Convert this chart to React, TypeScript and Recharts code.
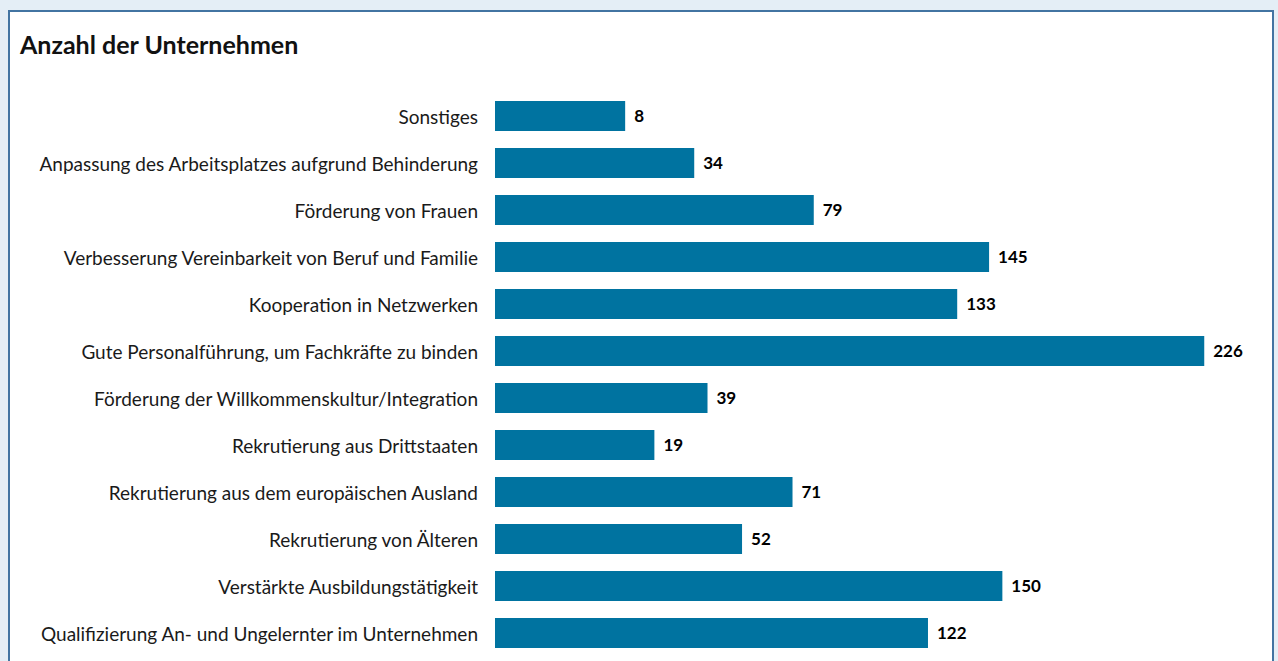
import { BarChart, Bar, XAxis, YAxis, LabelList } from 'recharts';

const categories = [
  'Sonstiges',
  'Anpassung des Arbeitsplatzes aufgrund Behinderung',
  'Förderung von Frauen',
  'Verbesserung Vereinbarkeit von Beruf und Familie',
  'Kooperation in Netzwerken',
  'Gute Personalführung, um Fachkräfte zu binden',
  'Förderung der Willkommenskultur/Integration',
  'Rekrutierung aus Drittstaaten',
  'Rekrutierung aus dem europäischen Ausland',
  'Rekrutierung von Älteren',
  'Verstärkte Ausbildungstätigkeit',
  'Qualifizierung An- und Ungelernter im Unternehmen',
];

const counts = [8, 34, 79, 145, 133, 226, 39, 19, 71, 52, 150, 122];

// the original axis does not start at zero: bars grow from this value
const AXIS_MIN = -41;
const AXIS_MAX = 250;

const data = categories.map((name, i) => ({ name, value: counts[i] }));

const FONT = 'Lato, "Open Sans", sans-serif';

const App = () => {
  return (
    <div
      style={{
        position: 'absolute',
        left: 0,
        top: 0,
        width: 1278,
        height: 661,
        background: '#e4eef6',
        overflow: 'hidden',
        fontFamily: FONT,
      }}
    >
      <div
        style={{
          position: 'absolute',
          left: 8,
          top: 10,
          width: 1262,
          height: 700,
          background: '#fff',
          border: '2px solid #4274a2',
        }}
      />
      <div
        style={{
          position: 'absolute',
          left: 20,
          top: 29,
          fontSize: 25,
          fontWeight: 700,
          color: '#111',
        }}
      >
        Anzahl der Unternehmen
      </div>
      <div style={{ position: 'absolute', left: 0, top: 0 }}>
        <BarChart
          width={1278}
          height={661}
          data={data}
          layout="vertical"
          barSize={30}
          margin={{ top: 92, right: 10, bottom: 5, left: 0 }}
        >
          <XAxis type="number" domain={[AXIS_MIN, AXIS_MAX]} allowDataOverflow hide />
          <YAxis
            type="category"
            dataKey="name"
            width={495}
            axisLine={false}
            tickLine={false}
            tickMargin={11}
            interval={0}
            tick={{ fontSize: 19, fill: '#1a1a1a', fontFamily: FONT, dy: 2 }}
          />
          <Bar
            dataKey={(d: { value: number }) => [AXIS_MIN, d.value]}
            fill="#0073a0"
            isAnimationActive={false}
          >
            <LabelList
              dataKey="value"
              position="right"
              offset={9}
              style={{ fontSize: 17, fontWeight: 700, fill: '#000', fontFamily: FONT }}
            />
          </Bar>
        </BarChart>
      </div>
    </div>
  );
};

export default App;
